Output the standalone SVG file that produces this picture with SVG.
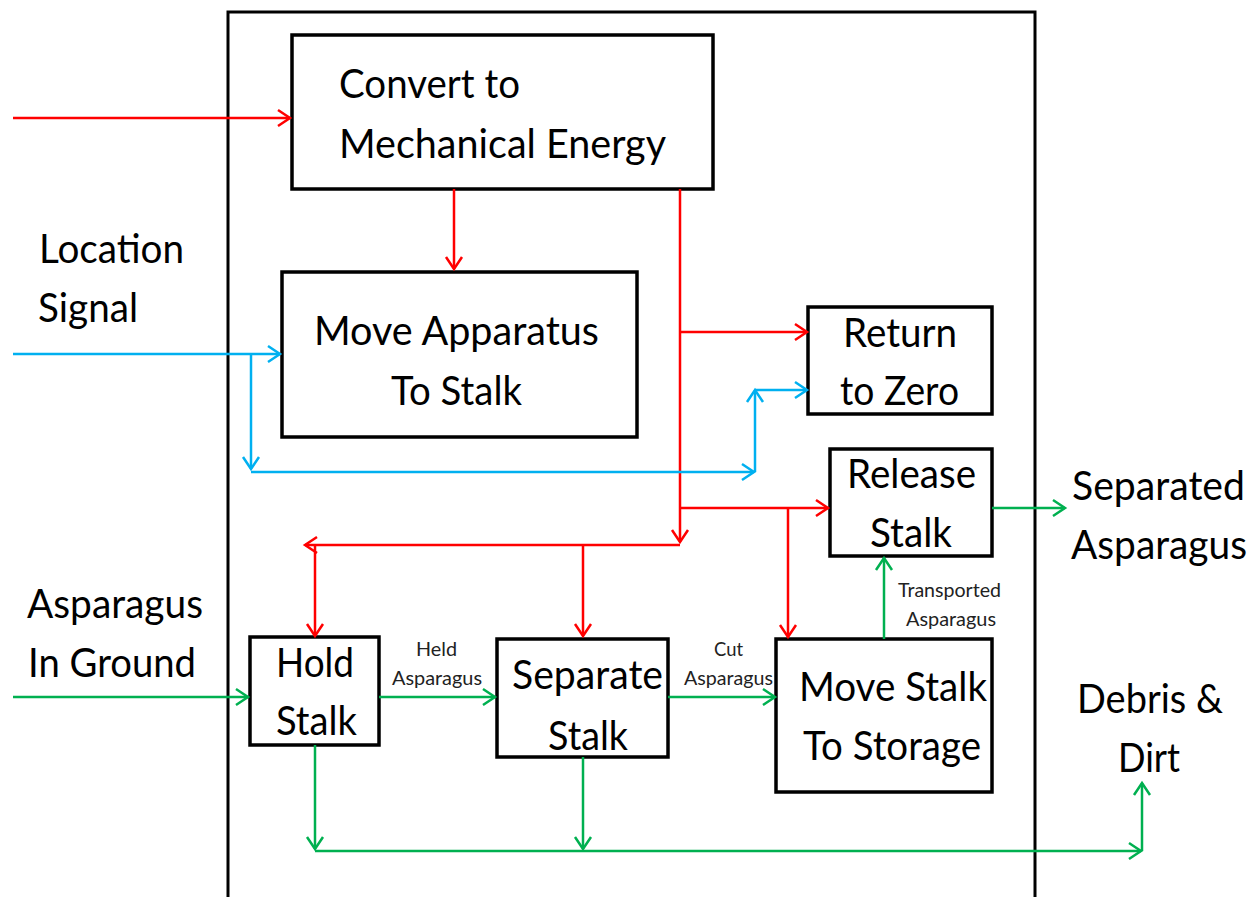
<svg xmlns="http://www.w3.org/2000/svg" width="1257" height="897" viewBox="0 0 1257 897">
<defs>
<style>
.box{fill:#fff;stroke:#000;stroke-width:3.5}
.outer{fill:none;stroke:#000;stroke-width:3}
.t{font-family:Lato,"Open Sans","Liberation Sans",sans-serif;font-size:41px;fill:#000}
.s{font-family:Lato,"Open Sans","Liberation Sans",sans-serif;font-size:20px;fill:#222}
.r{stroke:#FF0000;stroke-width:2.5;fill:none;marker-end:url(#ar)}
.b{stroke:#00B0F0;stroke-width:2.5;fill:none;marker-end:url(#ab)}
.g{stroke:#00B050;stroke-width:2.5;fill:none;marker-end:url(#ag)}
</style>
<marker id="ar" markerUnits="userSpaceOnUse" viewBox="-14 -10 16 20" refX="0" refY="0" markerWidth="16" markerHeight="20" orient="auto" overflow="visible"><path d="M-12,-8 L0,0 L-12,8" fill="none" stroke="#FF0000" stroke-width="2.5"/></marker>
<marker id="ab" markerUnits="userSpaceOnUse" viewBox="-14 -10 16 20" refX="0" refY="0" markerWidth="16" markerHeight="20" orient="auto" overflow="visible"><path d="M-12,-8 L0,0 L-12,8" fill="none" stroke="#00B0F0" stroke-width="2.5"/></marker>
<marker id="ag" markerUnits="userSpaceOnUse" viewBox="-14 -10 16 20" refX="0" refY="0" markerWidth="16" markerHeight="20" orient="auto" overflow="visible"><path d="M-12,-8 L0,0 L-12,8" fill="none" stroke="#00B050" stroke-width="2.5"/></marker>
</defs>
<rect width="1257" height="897" fill="#fff"/>
<rect id="boundary" class="outer" x="228" y="12" width="807" height="900"/>

<g id="convert"><rect class="box" x="292" y="35" width="421" height="154"/>
<text class="t" x="339" y="98" textLength="181" lengthAdjust="spacingAndGlyphs">Convert to</text>
<text class="t" x="339" y="158" textLength="327" lengthAdjust="spacingAndGlyphs">Mechanical Energy</text></g>

<g id="move-apparatus"><rect class="box" x="282" y="272" width="355" height="165"/>
<text class="t" x="314" y="345" textLength="285" lengthAdjust="spacingAndGlyphs">Move Apparatus</text>
<text class="t" x="391" y="405" textLength="131" lengthAdjust="spacingAndGlyphs">To Stalk</text></g>

<g id="return-zero"><rect class="box" x="808" y="307" width="184" height="107"/>
<text class="t" x="843" y="347" textLength="114" lengthAdjust="spacingAndGlyphs">Return</text>
<text class="t" x="840" y="405" textLength="119" lengthAdjust="spacingAndGlyphs">to Zero</text></g>

<g id="release"><rect class="box" x="830" y="449" width="162" height="107"/>
<text class="t" x="847" y="488" textLength="129" lengthAdjust="spacingAndGlyphs">Release</text>
<text class="t" x="870" y="547" textLength="82" lengthAdjust="spacingAndGlyphs">Stalk</text></g>

<g id="hold"><rect class="box" x="250" y="637" width="129" height="108"/>
<text class="t" x="276" y="677" textLength="78" lengthAdjust="spacingAndGlyphs">Hold</text>
<text class="t" x="276" y="735" textLength="81" lengthAdjust="spacingAndGlyphs">Stalk</text></g>

<g id="separate"><rect class="box" x="497" y="639" width="171" height="118"/>
<text class="t" x="512" y="689" textLength="151" lengthAdjust="spacingAndGlyphs">Separate</text>
<text class="t" x="548" y="750" textLength="80" lengthAdjust="spacingAndGlyphs">Stalk</text></g>

<g id="move-storage"><rect class="box" x="776" y="639" width="216" height="153"/>
<text class="t" x="799" y="701" textLength="188" lengthAdjust="spacingAndGlyphs">Move Stalk</text>
<text class="t" x="803" y="760" textLength="178" lengthAdjust="spacingAndGlyphs">To Storage</text></g>

<g id="in-location"><text class="t" x="39" y="263" textLength="145" lengthAdjust="spacingAndGlyphs">Location</text>
<text class="t" x="38" y="322" textLength="100" lengthAdjust="spacingAndGlyphs">Signal</text></g>
<g id="in-asparagus"><text class="t" x="27" y="618" textLength="176" lengthAdjust="spacingAndGlyphs">Asparagus</text>
<text class="t" x="28" y="677" textLength="168" lengthAdjust="spacingAndGlyphs">In Ground</text></g>
<g id="out-separated"><text class="t" x="1072" y="500" textLength="173" lengthAdjust="spacingAndGlyphs">Separated</text>
<text class="t" x="1071" y="559" textLength="176" lengthAdjust="spacingAndGlyphs">Asparagus</text></g>
<g id="out-debris"><text class="t" x="1077" y="713" textLength="146" lengthAdjust="spacingAndGlyphs">Debris &amp;</text>
<text class="t" x="1118" y="772" textLength="62" lengthAdjust="spacingAndGlyphs">Dirt</text></g>

<g id="connectors">
<path class="r" d="M13,118 H290"/>
<path class="r" d="M454,189 V269"/>
<path class="r" d="M680,189 V542"/>
<path class="r" d="M680,332 H807"/>
<path class="r" d="M680,508 H828"/>
<path class="r" d="M788,508 V637"/>
<path class="r" d="M680,545 H305"/>
<path class="r" d="M315,545 V636"/>
<path class="r" d="M583,545 V636"/>
<path class="b" d="M13,354 H280"/>
<path class="b" d="M251,354 V469"/>
<path class="b" d="M251,472 H754"/>
<path class="b" d="M755,472 V390"/>
<path class="b" d="M755,390 H807"/>
<path class="g" d="M13,697 H248"/>
<path class="g" d="M379,697 H495"/>
<path class="g" d="M668,697 H775"/>
<path class="g" d="M884,639 V558"/>
<path class="g" d="M992,508 H1065"/>
<path class="g" d="M315,745 V849"/>
<path class="g" d="M583,757 V849"/>
<path class="g" d="M315,851 H1141"/>
<path class="g" d="M1142,851 V783"/>
<text class="s" x="416" y="656" textLength="41" lengthAdjust="spacingAndGlyphs">Held</text>
<text class="s" x="392" y="685" textLength="90" lengthAdjust="spacingAndGlyphs">Asparagus</text>
<text class="s" x="714" y="656" textLength="29" lengthAdjust="spacingAndGlyphs">Cut</text>
<text class="s" x="684" y="685" textLength="89" lengthAdjust="spacingAndGlyphs">Asparagus</text>
<text class="s" x="898" y="597" textLength="103" lengthAdjust="spacingAndGlyphs">Transported</text>
<text class="s" x="906" y="626" textLength="90" lengthAdjust="spacingAndGlyphs">Asparagus</text>
</g>
</svg>
